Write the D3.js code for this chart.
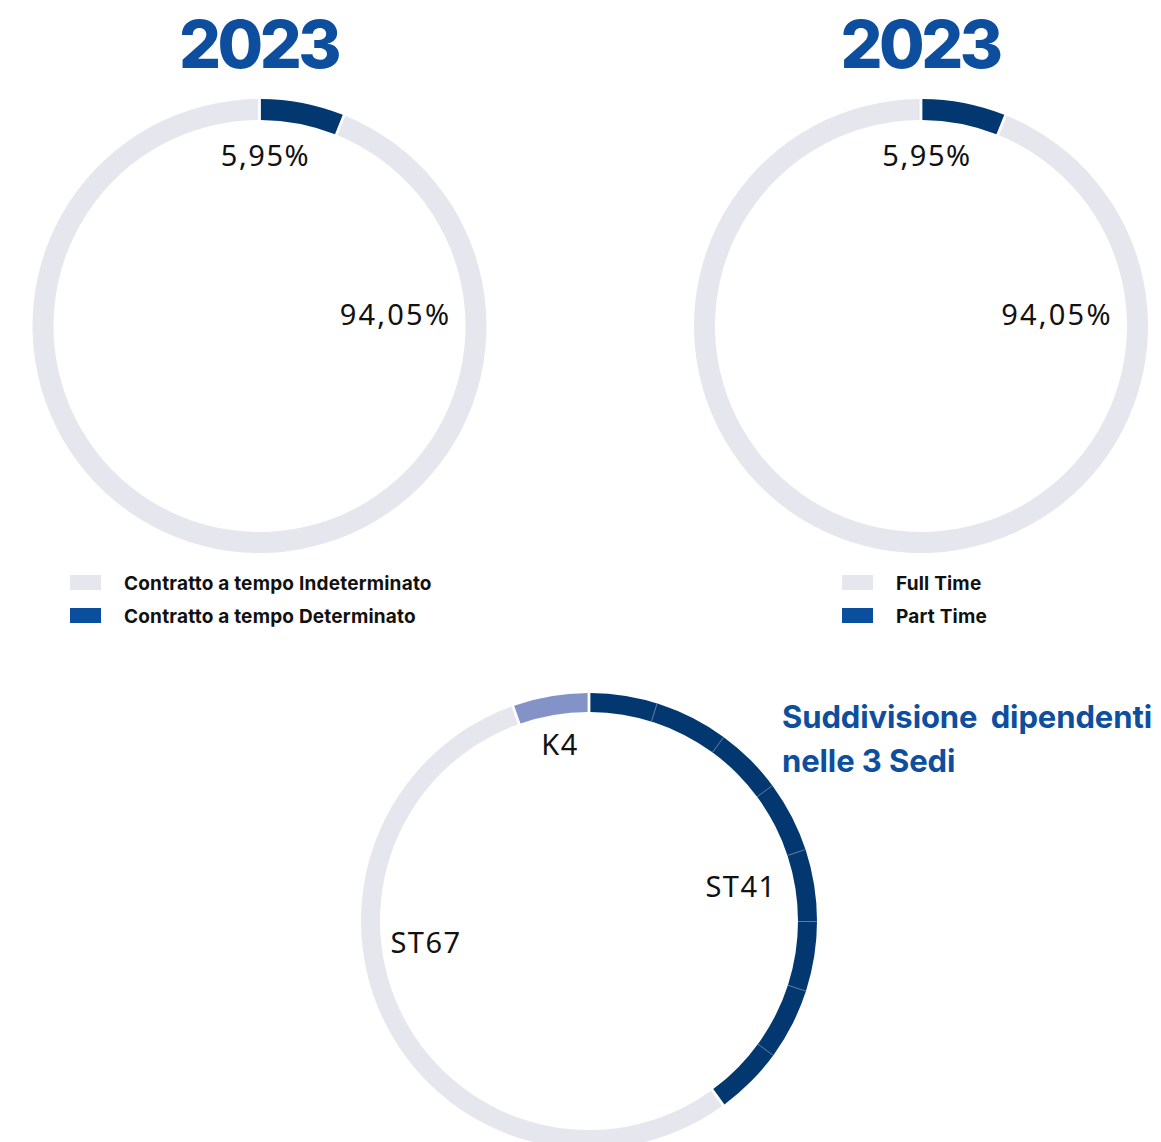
<!DOCTYPE html>
<html><head><meta charset="utf-8">
<script src="https://cdn.jsdelivr.net/npm/d3@7"></script>
<style>
html,body{margin:0;padding:0;background:#fff;}
svg{display:block;}
</style></head>
<body>
<svg id="chart" width="1161" height="1142"></svg>
<script>
// ---- data ----
const yearLabel = "2023";
const contractCategories = ["Contratto a tempo Determinato", "Contratto a tempo Indeterminato"];
const contractValues = [5.95, 94.05];
const timeCategories = ["Part Time", "Full Time"];
const timeValues = [5.95, 94.05];
const siteCategories = ["ST41", "ST67", "K4"];
const siteValues = [40.0, 54.7, 5.3];
const st41SubValues = [8.0, 8.8, 8.1, 8.5, 8.6, 8.3, 8.5, 8.2];
const siteTitle = ["Suddivisione dipendenti", "nelle 3 Sedi"];

// ---- styles ----
const LIGHT = "#e6e7ee", DARK = "#02386f", LEGEND_DARK = "#0a4e9e", TITLE = "#0d4f9e", K4C = "#8393c8";
const labelFont = "'Noto Sans', sans-serif";
const boldFont = "Inter, 'Noto Sans', sans-serif";

const svg = d3.select("#chart");
const fmt = v => v.toFixed(2).replace(".", ",") + "%";

function smallDonut(cx, cy, cats, vals, legendX, legendLabels) {
  const g = svg.append("g").attr("transform", `translate(${cx},${cy})`);
  const pie = d3.pie().sort(null).value(d => d.v).padAngle(0.009);
  const data = cats.map((c, i) => ({c, v: vals[i], color: i === 0 ? DARK : LIGHT}));
  const arc = d3.arc().innerRadius(206).outerRadius(227);
  g.selectAll("path").data(pie(data)).join("path")
    .attr("d", arc).attr("fill", d => d.data.color);
  // labels
  g.append("text").attr("x", 6).attr("y", -160).attr("text-anchor", "middle")
    .attr("font-family", labelFont).attr("font-size", 29).attr("letter-spacing", 1.6).attr("fill", "#111")
    .text(fmt(vals[0]));
  g.append("text").attr("x", 136).attr("y", -1).attr("text-anchor", "middle")
    .attr("font-family", labelFont).attr("font-size", 29).attr("letter-spacing", 2.2).attr("fill", "#111")
    .text(fmt(vals[1]));
  // year title
  svg.append("text").attr("x", cx - 1).attr("y", 68).attr("text-anchor", "middle")
    .attr("font-family", boldFont).attr("font-weight", 800).attr("font-size", 66)
    .attr("letter-spacing", -3.5).attr("fill", TITLE).text(yearLabel);
  // legend (light first, then dark)
  const leg = [{t: legendLabels[1], c: LIGHT}, {t: legendLabels[0], c: LEGEND_DARK}];
  const lg = svg.append("g");
  leg.forEach((d, i) => {
    lg.append("rect").attr("x", legendX).attr("y", 575 + i * 33).attr("width", 31).attr("height", 15).attr("fill", d.c);
    lg.append("text").attr("x", legendX + 54).attr("y", 590 + i * 33)
      .attr("font-family", boldFont).attr("font-weight", 700).attr("font-size", 19)
      .attr("letter-spacing", 0.2).attr("fill", "#111").text(d.t);
  });
}

smallDonut(259.5, 326, contractCategories, contractValues, 70, contractCategories);
smallDonut(921, 326, timeCategories, timeValues, 842, timeCategories);

// ---- bottom donut ----
const bcx = 589, bcy = 921, rIn = 209, rOut = 228;
const bg = svg.append("g").attr("transform", `translate(${bcx},${bcy})`);
const bpie = d3.pie().sort(null).value(d => d.v).padAngle(0.009);
const siteColors = {ST41: DARK, ST67: LIGHT, K4: K4C};
const sData = bpie(siteCategories.map((c, i) => ({c, v: siteValues[i]})));
const barc = d3.arc().innerRadius(rIn).outerRadius(rOut);
bg.selectAll("path.main").data(sData).join("path").attr("class", "main")
  .attr("d", barc).attr("fill", d => siteColors[d.data.c]);
// sub-division lines of ST41
const st41 = sData[0];
const subCum = d3.cumsum(st41SubValues);
const subScale = d3.scaleLinear().domain([0, d3.sum(st41SubValues)])
  .range([st41.startAngle + st41.padAngle / 2, st41.endAngle - st41.padAngle / 2]);
bg.selectAll("line.sep").data(Array.from(subCum).slice(0, -1)).join("line").attr("class", "sep")
  .attr("x1", d => d3.pointRadial(subScale(d), rIn)[0])
  .attr("y1", d => d3.pointRadial(subScale(d), rIn)[1])
  .attr("x2", d => d3.pointRadial(subScale(d), rOut)[0])
  .attr("y2", d => d3.pointRadial(subScale(d), rOut)[1])
  .attr("stroke", "#5f7fa8").attr("stroke-width", 1);
// labels
const siteLabelPos = {K4: [-29, -166], ST41: [152, -24], ST67: [-163, 32]};
siteCategories.forEach(c => {
  bg.append("text").attr("x", siteLabelPos[c][0]).attr("y", siteLabelPos[c][1])
    .attr("text-anchor", "middle").attr("font-family", labelFont).attr("font-size", 29)
    .attr("letter-spacing", 1.5).attr("fill", "#111").text(c);
});
// title
siteTitle.forEach((t, i) => {
  svg.append("text").attr("x", 782).attr("y", 728 + i * 44)
    .attr("font-family", boldFont).attr("font-weight", 700).attr("font-size", 31)
    .attr("letter-spacing", -0.1).attr("word-spacing", i === 0 ? 6 : 0).attr("fill", TITLE).text(t);
});
</script>
</body></html>
